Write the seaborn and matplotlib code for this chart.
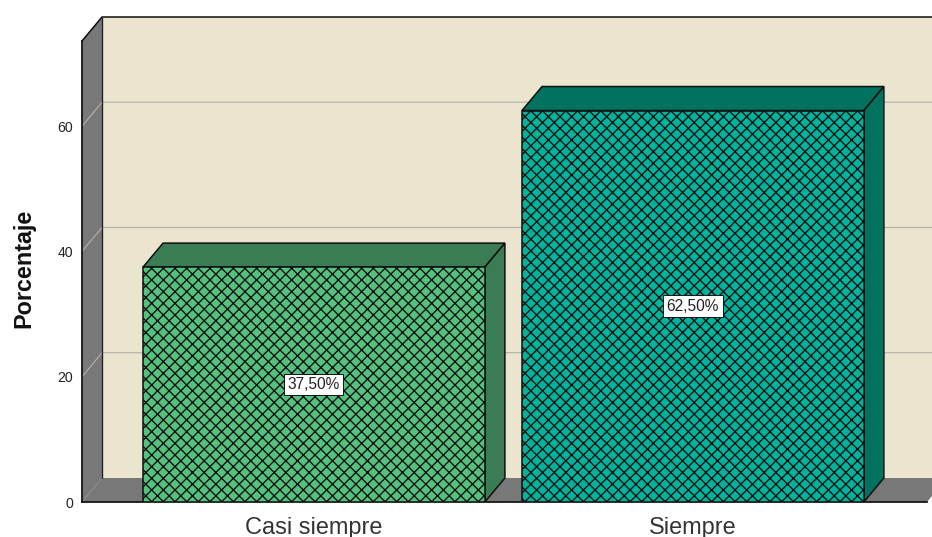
import matplotlib
matplotlib.use('Agg')
import matplotlib.pyplot as plt
import seaborn as sns
from matplotlib.patches import Polygon, Rectangle

categories = ['Casi siempre', 'Siempre']
percentages = [37.5, 62.5]
front_colors = ['#55C17F', '#00B39C']
dark_colors = ['#3A7D54', '#00725F']
y_ticks = [0, 20, 40, 60]

WALL = '#EBE5D0'
GREY = '#787878'
DEPTH_X = 0.0528
DEPTH_Y = 3.83
X_MIN, X_MAX = -0.612, 1.6176
Y_MAX = 73.6

sns.set_theme(style='white')
plt.rcParams['font.family'] = ['Liberation Sans', 'DejaVu Sans']
plt.rcParams['hatch.linewidth'] = 0.7

fig = plt.figure(figsize=(932 / 140, 537 / 140), dpi=140)
ax = fig.add_axes([82 / 932, 35 / 537, 845 / 932, 461 / 537])
ax.patch.set_alpha(0)


def face(points, color, z, edge='none', lw=0):
    # side faces of the fake 3d box, clipped by the figure only
    ax.add_patch(Polygon(points, closed=True, facecolor=color, edgecolor=edge,
                         linewidth=lw, zorder=z, clip_on=False))


# back wall, floor and left wall
face([(X_MIN + DEPTH_X, DEPTH_Y), (X_MAX + 0.1, DEPTH_Y),
      (X_MAX + 0.1, Y_MAX + DEPTH_Y), (X_MIN + DEPTH_X, Y_MAX + DEPTH_Y)], WALL, 0)
face([(X_MIN, 0), (X_MAX, 0), (X_MAX + DEPTH_X, DEPTH_Y), (X_MIN + DEPTH_X, DEPTH_Y)], GREY, 0.5)
face([(X_MIN, 0), (X_MIN + DEPTH_X, DEPTH_Y),
      (X_MIN + DEPTH_X, Y_MAX + DEPTH_Y), (X_MIN, Y_MAX)], GREY, 0.5)

for t in y_ticks[1:]:
    ax.plot([X_MIN, X_MIN + DEPTH_X, X_MAX + 0.1], [t, t + DEPTH_Y, t + DEPTH_Y],
            color='#B4B0A8', lw=0.6, zorder=1, clip_on=False)

# outline of the walls
ax.plot([X_MIN, X_MIN + DEPTH_X, X_MAX + 0.1], [Y_MAX, Y_MAX + DEPTH_Y, Y_MAX + DEPTH_Y],
        color='#111111', lw=0.8, zorder=2, clip_on=False)
ax.plot([X_MIN + DEPTH_X, X_MIN + DEPTH_X], [DEPTH_Y, Y_MAX + DEPTH_Y],
        color='#222222', lw=0.7, zorder=2, clip_on=False)

sns.barplot(x=categories, y=percentages, hue=categories, palette=front_colors,
            width=0.902, dodge=False, legend=False, edgecolor='#111111', saturation=1,
            linewidth=0.8, hatch='xxxx', zorder=3, ax=ax)

# top and side of each bar come from the bar itself
bars = [p for p in ax.patches if isinstance(p, Rectangle)]
for bar, dark, val in zip(bars, dark_colors, percentages):
    x0, w, h = bar.get_x(), bar.get_width(), bar.get_height()
    x1 = x0 + w
    face([(x0, h), (x1, h), (x1 + DEPTH_X, h + DEPTH_Y), (x0 + DEPTH_X, h + DEPTH_Y)],
         dark, 2.5, '#111111', 0.8)
    face([(x1, 0), (x1 + DEPTH_X, DEPTH_Y), (x1 + DEPTH_X, h + DEPTH_Y), (x1, h)],
         dark, 2.5, '#111111', 0.8)
    ax.text(x0 + w / 2, val / 2, f'{val:.2f}%'.replace('.', ','), ha='center', va='center',
            fontsize=8, color='#222222', zorder=5,
            bbox=dict(boxstyle='square,pad=0.22', facecolor='white', edgecolor='#111111', linewidth=0.5))

ax.set_xlim(X_MIN, X_MAX)
ax.set_ylim(0, Y_MAX)
ax.set_yticks(y_ticks)
ax.tick_params(axis='y', length=0, pad=4.5, labelsize=7.2, labelcolor='#222222')
ax.tick_params(axis='x', length=0, pad=7.5, labelsize=12.1, labelcolor='#333333')
ax.set_ylabel('Porcentaje', fontsize=12, fontweight='bold', color='#111111')
ax.yaxis.set_label_coords(-0.055, 0.507)

sns.despine(ax=ax, top=True, right=True)
for side in ['left', 'bottom']:
    ax.spines[side].set_color('#111111')
    ax.spines[side].set_linewidth(0.9)
    ax.spines[side].set_zorder(2.8)

fig.savefig('out.png', dpi=140)
